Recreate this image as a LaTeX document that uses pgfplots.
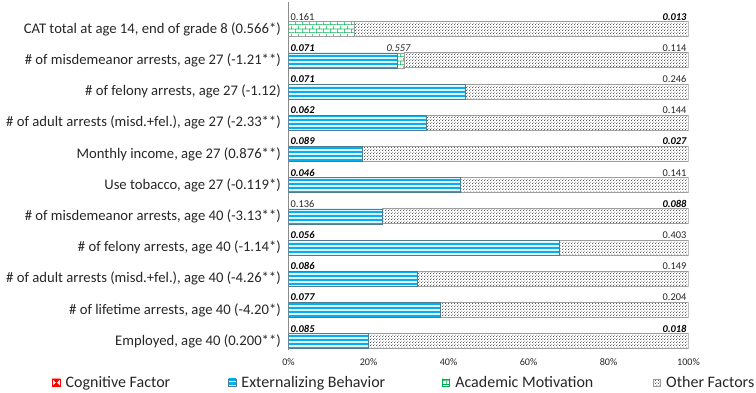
\documentclass[border=0pt]{standalone}
\usepackage{fontspec}
\setmainfont{Carlito}
\usepackage{pgfplots}
\usepackage{pgfplotstable}
\pgfplotsset{compat=1.18}
\usetikzlibrary{patterns.meta}

\definecolor{extblue}{HTML}{00B0F0}
\definecolor{extedge}{HTML}{4F7C93}
\definecolor{acadgreen}{HTML}{00B050}
\definecolor{othedge}{HTML}{9E9E9E}
\definecolor{dotgray}{HTML}{5A5A5A}
\definecolor{axisgray}{HTML}{8C8C8C}
\definecolor{labelgray}{HTML}{262626}

% horizontal stripes (externalizing behaviour)
\tikzdeclarepattern{
  name=hstripes,
  type=uncolored,
  bottom left={(0pt,0pt)},
  top right={(40pt,3pt)},
  tile size={(40pt,3pt)},
  code={
    \pgfpathrectangle{\pgfpoint{0pt}{0pt}}{\pgfpoint{40pt}{1.9pt}}
    \pgfusepath{fill}
  }
}
% small checker of dots (other factors)
\tikzdeclarepattern{
  name=finedots,
  type=uncolored,
  bottom left={(0pt,0pt)},
  top right={(2.4pt,2.4pt)},
  tile size={(2.4pt,2.4pt)},
  code={
    \pgfpathrectangle{\pgfpoint{0pt}{0pt}}{\pgfpoint{0.85pt}{0.85pt}}
    \pgfpathrectangle{\pgfpoint{1.2pt}{1.2pt}}{\pgfpoint{0.85pt}{0.85pt}}
    \pgfusepath{fill}
  }
}
% brick wall (academic motivation)
\tikzdeclarepattern{
  name=bricks,
  type=uncolored,
  bottom left={(0pt,0pt)},
  top right={(5.4pt,6pt)},
  tile size={(5.4pt,6pt)},
  code={
    \pgfsetlinewidth{0.6pt}
    \pgfpathmoveto{\pgfpoint{-0.1pt}{0.3pt}}\pgfpathlineto{\pgfpoint{5.5pt}{0.3pt}}
    \pgfpathmoveto{\pgfpoint{-0.1pt}{3.3pt}}\pgfpathlineto{\pgfpoint{5.5pt}{3.3pt}}
    \pgfpathmoveto{\pgfpoint{0.3pt}{0pt}}\pgfpathlineto{\pgfpoint{0.3pt}{3.3pt}}
    \pgfpathmoveto{\pgfpoint{3.0pt}{3.3pt}}\pgfpathlineto{\pgfpoint{3.0pt}{6pt}}
    \pgfusepath{stroke}
  }
}

% shares (%) of each outcome, rows top to bottom
\pgfplotstableread{
row blue green other
0   0    16.4 83.6
1   27.3 1.7  71.0
2   44.3 0    55.7
3   34.5 0    65.5
4   18.5 0    81.5
5   43.0 0    57.0
6   23.5 0    76.5
7   67.7 0    32.3
8   32.3 0    67.7
9   37.9 0    62.1
10  19.9 0    80.1
}\shares

\newcommand{\vl}{\fontsize{7.8}{9}\selectfont\color{labelgray}}
\newcommand{\vb}{\fontsize{7.8}{9}\selectfont\bfseries\itshape}

\begin{document}
\begin{tikzpicture}
\path[use as bounding box] (-216.4pt,-32.25pt) rectangle (350.6pt,262.2pt);
\begin{axis}[
  at={(0,0)}, anchor=south west,
  scale only axis, width=300pt, height=260.7pt,
  xbar stacked, bar width=11.25pt,
  xmin=0, xmax=100,
  ymin=-0.87, ymax=10.27, y dir=reverse,
  ytick={0,...,10},
  yticklabels={
    {CAT total at age 14, end of grade 8 (0.566*)},
    {\# of misdemeanor arrests, age 27 (-1.21**)},
    {\# of felony arrests, age 27 (-1.12)},
    {\# of adult arrests (misd.+fel.), age 27 (-2.33**)},
    {Monthly income, age 27 (0.876**)},
    {Use tobacco, age 27 (-0.119*)},
    {\# of misdemeanor arrests, age 40 (-3.13**)},
    {\# of felony arrests, age 40 (-1.14*)},
    {\# of adult arrests (misd.+fel.), age 40 (-4.26**)},
    {\# of lifetime arrests, age 40 (-4.20*)},
    {Employed, age 40 (0.200**)}},
  xtick={0,20,...,100},
  xticklabel={\pgfmathprintnumber{\tick}\%},
  /pgf/number format/assume math mode=true,
  axis lines*=left,
  x axis line style={draw=none},
  y axis line style={-, draw=axisgray, line width=0.8pt},
  tick style={draw=none},
  yticklabel style={font=\fontsize{11}{13}\selectfont, inner xsep=0pt, xshift=-5.6pt, text=labelgray},
  xticklabel style={font=\fontsize{7.6}{9}\selectfont, yshift=-3pt, text=labelgray},
  legend columns=4,
  legend cell align=left,
  legend style={at={(-0.5913,-0.095)}, anchor=west, draw=none, fill=none,
    inner sep=0pt, font=\fontsize{12}{14}\selectfont,
    /tikz/every odd column/.append style={column sep=4pt},
    nodes={inner sep=0pt, anchor=west, text=labelgray}},
]
\addlegendimage{legend image code/.code={
  \draw[red, line width=0.5pt] (0pt,-2.75pt) rectangle (5.5pt,2.75pt);
  \fill[red] (0pt,2.75pt) -- (5.5pt,2.75pt) -- (2.75pt,0pt) -- cycle;
  \fill[red] (0pt,-2.75pt) -- (5.5pt,-2.75pt) -- (2.75pt,0pt) -- cycle;}}
\addlegendentry{\makebox[122pt][l]{Cognitive Factor}}

\addplot[draw=extedge, line width=0.5pt, pattern=hstripes, pattern color=extblue,
  legend image code/.code={
    \draw[draw=extedge, line width=0.4pt, pattern=hstripes, pattern color=extblue]
      (0pt,-2.75pt) rectangle (5.5pt,2.75pt);}]
  table[x=blue, y=row] {\shares};
\addlegendentry{\makebox[150.5pt][l]{Externalizing Behavior}}

\addplot[draw=othedge, line width=0.5pt, pattern=bricks, pattern color=acadgreen,
  legend image code/.code={
    \draw[draw=acadgreen, line width=0.4pt, pattern=bricks, pattern color=acadgreen]
      (0pt,-2.75pt) rectangle (5.5pt,2.75pt);}]
  table[x=green, y=row] {\shares};
\addlegendentry{\makebox[148.25pt][l]{Academic Motivation}}

\addplot[draw=othedge, line width=0.6pt, pattern=finedots, pattern color=dotgray,
  legend image code/.code={
    \draw[draw=othedge, line width=0.4pt, pattern=finedots, pattern color=dotgray]
      (0pt,-2.75pt) rectangle (5.5pt,2.75pt);}]
  table[x=other, y=row] {\shares};
\addlegendentry{Other Factors}

% coefficient labels above each bar
\tikzset{lv/.style={inner xsep=1.4pt, inner ysep=1.0pt, yshift=5.6pt}}
\node[lv, anchor=south west] at (axis cs:0,0)  {\vl 0.161};
\node[lv, anchor=south east] at (axis cs:100,0) {\vb 0.013};
\node[lv, anchor=south west] at (axis cs:0,1)  {\vb 0.071};
\node[lv, anchor=south east] at (axis cs:31.0,1) {\fontsize{7.8}{9}\selectfont\itshape\color{labelgray}0.557};
\node[lv, anchor=south east] at (axis cs:100,1) {\vl 0.114};
\node[lv, anchor=south west] at (axis cs:0,2)  {\vb 0.071};
\node[lv, anchor=south east] at (axis cs:100,2) {\vl 0.246};
\node[lv, anchor=south west] at (axis cs:0,3)  {\vb 0.062};
\node[lv, anchor=south east] at (axis cs:100,3) {\vl 0.144};
\node[lv, anchor=south west] at (axis cs:0,4)  {\vb 0.089};
\node[lv, anchor=south east] at (axis cs:100,4) {\vb 0.027};
\node[lv, anchor=south west] at (axis cs:0,5)  {\vb 0.046};
\node[lv, anchor=south east] at (axis cs:100,5) {\vl 0.141};
\node[lv, anchor=south west] at (axis cs:0,6)  {\vl 0.136};
\node[lv, anchor=south east] at (axis cs:100,6) {\vb 0.088};
\node[lv, anchor=south west] at (axis cs:0,7)  {\vb 0.056};
\node[lv, anchor=south east] at (axis cs:100,7) {\vl 0.403};
\node[lv, anchor=south west] at (axis cs:0,8)  {\vb 0.086};
\node[lv, anchor=south east] at (axis cs:100,8) {\vl 0.149};
\node[lv, anchor=south west] at (axis cs:0,9)  {\vb 0.077};
\node[lv, anchor=south east] at (axis cs:100,9) {\vl 0.204};
\node[lv, anchor=south west] at (axis cs:0,10) {\vb 0.085};
\node[lv, anchor=south east] at (axis cs:100,10) {\vb 0.018};
\end{axis}
\end{tikzpicture}
\end{document}
